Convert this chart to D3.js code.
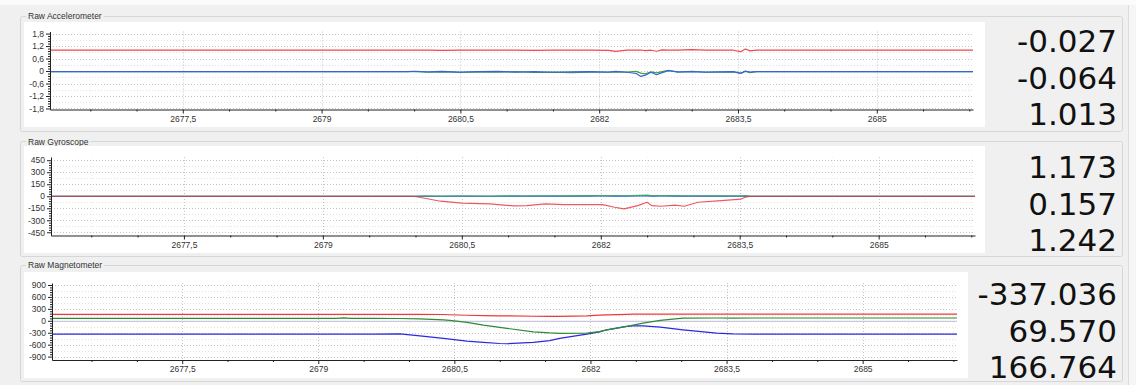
<!DOCTYPE html>
<html>
<head>
<meta charset="utf-8">
<script src="https://cdn.jsdelivr.net/npm/d3@7"></script>
<style>
html, body { margin: 0; padding: 0; background: #f0f0f0; overflow: hidden; }
svg { display: block; font-family: "Liberation Sans", Arial, sans-serif; }
</style>
</head>
<body>
<script>
// shared time axis
const xDomain = [2676.065, 2686.04];
const xTicks = [2677.5, 2679, 2680.5, 2682, 2683.5, 2685];

// accelerometer
const accelTicks = [-1.8, -1.2, -0.6, 0, 0.6, 1.2, 1.8];
const accelTime = [2676.065, 2679.93, 2680.0, 2680.15, 2680.3, 2680.5, 2680.7, 2680.9, 2681.1, 2681.3, 2681.5,
  2681.7, 2681.9, 2682.1, 2682.18, 2682.3, 2682.4, 2682.45, 2682.5, 2682.56, 2682.62, 2682.68, 2682.75, 2682.85,
  2683.0, 2683.15, 2683.3, 2683.45, 2683.53, 2683.58, 2683.63, 2683.7, 2686.04];
const accelX = [-0.03, -0.03, -0.01, -0.04, -0.02, -0.05, -0.03, -0.02, -0.05, -0.03, -0.06, -0.04, -0.03, -0.05,
  -0.02, -0.06, -0.12, -0.26, -0.2, -0.06, -0.18, -0.08, 0.02, -0.04, -0.03, -0.05, -0.04, -0.03, -0.1, 0.0, -0.05,
  -0.03, -0.03];
const accelY = [-0.03, -0.03, -0.03, -0.06, -0.04, -0.07, -0.04, -0.06, -0.03, -0.07, -0.05, -0.08, -0.05, -0.06,
  -0.04, -0.05, -0.02, -0.1, -0.14, -0.04, -0.09, -0.03, 0.03, -0.06, -0.02, -0.06, -0.05, -0.04, -0.12, -0.02,
  -0.08, -0.03, -0.03];
const accelZ = [1.0, 1.0, 1.0, 1.0, 0.99, 1.0, 1.01, 1.0, 1.0, 0.99, 1.0, 1.0, 1.0, 0.99, 0.94, 1.0, 1.0, 1.01,
  0.98, 1.0, 0.95, 1.02, 1.0, 1.0, 1.03, 1.0, 1.0, 1.0, 0.93, 1.06, 0.97, 1.0, 1.0];
const accelReadout = ["-0.027", "-0.064", "1.013"];

// gyroscope
const gyroTicks = [-450, -300, -150, 0, 150, 300, 450];
const gyroTime = [2676.065, 2679.98, 2680.1, 2680.27, 2680.5, 2680.8, 2681.06, 2681.2, 2681.4, 2681.6, 2681.85,
  2682.02, 2682.15, 2682.25, 2682.4, 2682.5, 2682.55, 2682.65, 2682.8, 2682.9, 2683.05, 2683.3, 2683.51, 2683.56,
  2683.62, 2686.04];
const gyroX = [0, 0, 1, 0, 1, 0, 2, 1, 2, 1, 2, 3, 2, 1, 3, 4, 2, 3, 2, 1, 2, 1, 1, 2, 0, 0];
const gyroY = [0, 0, 2, 1, 3, 2, 4, 3, 6, 5, 8, 7, 9, 6, 10, 14, 8, 7, 9, 6, 5, 4, 3, 8, 0, 0];
const gyroZ = [0, 0, -25, -62, -87, -96, -121, -117, -96, -104, -104, -104, -137, -158, -117, -75, -117, -125,
  -112, -125, -75, -54, -37, -12, 0, 0];
const gyroReadout = ["1.173", "0.157", "1.242"];

// magnetometer
const magTicks = [-900, -600, -300, 0, 300, 600, 900];
const magTime = [2676.065, 2679.2, 2679.28, 2679.36, 2679.6, 2679.9, 2680.12, 2680.38, 2680.45, 2680.64, 2680.82,
  2681.0, 2681.08, 2681.37, 2681.55, 2681.66, 2681.96, 2682.1, 2682.18, 2682.4, 2682.47, 2682.58, 2682.77, 2683.02,
  2683.39, 2683.57, 2683.8, 2686.04];
const magX = [-335, -335, -335, -335, -335, -330, -377, -440, -460, -510, -544, -570, -577, -544, -500, -443, -335,
  -280, -226, -142, -128, -126, -159, -226, -310, -327, -337, -337];
const magY = [62, 62, 74, 62, 62, 58, 50, 25, 12, -40, -110, -166, -190, -276, -305, -317, -310, -270, -226, -140,
  -108, -60, 10, 68, 70, 68, 70, 70];
const magZ = [162, 162, 162, 162, 162, 162, 161, 158, 152, 140, 132, 126, 124, 115, 110, 110, 125, 143, 150, 160,
  166, 166, 166, 166, 166, 166, 166, 166];
const magRefTime = [2676.065, 2686.04];
const magRef = [-12, -12];
const magReadout = ["-337.036", "69.570", "166.764"];

const W = 1136, H = 385;
const comma = d => String(d).replace(".", ",");

const svg = d3.select("body").append("svg")
  .attr("width", W)
  .attr("height", H);

svg.append("rect").attr("width", W).attr("height", H).attr("fill", "#f0f0f0");
svg.append("rect").attr("width", W).attr("height", 5).attr("fill", "#fbfbfb");
svg.append("rect").attr("x", 1128).attr("y", 5).attr("width", 8).attr("height", H - 5).attr("fill", "#f6f6f6");
svg.append("line").attr("x1", 1128.5).attr("x2", 1128.5).attr("y1", 5).attr("y2", H).attr("stroke", "#dcdcdc");

const panels = [
  {
    title: "Raw Accelerometer", frameTop: 16, frameBottom: 131, titleBase: 18.5,
    canvas: [24, 22, 985, 127], xr: [50, 973], yr: [109.5, 31.5], domain: [-1.85, 1.9],
    ticks: accelTicks, readout: accelReadout, readY: 52,
    series: [
      {t: accelTime, v: accelY, c: "#45a045", o: 1},
      {t: accelTime, v: accelX, c: "#3565d8", o: 1},
      {t: accelTime, v: accelZ, c: "#ec4a4e", o: 1}
    ]
  },
  {
    title: "Raw Gyroscope", frameTop: 141, frameBottom: 256, titleBase: 144.5,
    canvas: [24, 146, 985, 253], xr: [51, 975], yr: [235.5, 157], domain: [-490, 490],
    ticks: gyroTicks, readout: gyroReadout, readY: 178,
    series: [
      {t: gyroTime, v: gyroX, c: "#3060d0", o: 1},
      {t: gyroTime, v: gyroY, c: "#30a060", o: 0.8},
      {t: gyroTime, v: gyroZ, c: "#e8303a", o: 0.8}
    ]
  },
  {
    title: "Raw Magnetometer", frameTop: 265, frameBottom: 381, titleBase: 268,
    canvas: [24, 272, 968, 378], xr: [52, 957], yr: [360, 283], domain: [-985, 950],
    ticks: magTicks, readout: magReadout, readY: 305,
    series: [
      {t: magRefTime, v: magRef, c: "#c9c6e0", o: 1},
      {t: magTime, v: magX, c: "#2a2ae0", o: 1},
      {t: magTime, v: magY, c: "#2f8a35", o: 1},
      {t: magTime, v: magZ, c: "#f03a3a", o: 1}
    ]
  }
];

panels.forEach(p => {
  const g = svg.append("g");

  // group box frame + title
  g.append("rect")
    .attr("x", 20.5).attr("y", p.frameTop + 0.5)
    .attr("width", 1102).attr("height", p.frameBottom - p.frameTop)
    .attr("rx", 2)
    .attr("fill", "none").attr("stroke", "#d6d6d6");
  const title = g.append("text")
    .attr("x", 28).attr("y", p.titleBase)
    .attr("font-size", 8.5).attr("fill", "#333")
    .text(p.title);
  const tw = title.node().getComputedTextLength();
  g.insert("rect", "text")
    .attr("x", 26).attr("y", p.frameTop - 3)
    .attr("width", tw + 4).attr("height", 7)
    .attr("fill", "#f0f0f0");

  // white canvas
  const [cx0, cy0, cx1, cy1] = p.canvas;
  g.append("rect")
    .attr("x", cx0).attr("y", cy0)
    .attr("width", cx1 - cx0).attr("height", cy1 - cy0)
    .attr("fill", "#fff");

  const x = d3.scaleLinear().domain(xDomain).range(p.xr);
  const y = d3.scaleLinear().domain(p.domain).range(p.yr);

  const step = p.ticks[1] - p.ticks[0];
  const halfTicks = p.ticks.slice(0, -1).map(t => t + step / 2);
  const yMinor = [];
  p.ticks.slice(0, -1).forEach(t => { for (let k = 1; k < 5; k++) yMinor.push(t + k * step / 5); });
  const xMinor = d3.range(2676.5, xDomain[1], 0.5).filter(t => !xTicks.some(m => Math.abs(m - t) < 1e-6));

  // grid
  const grid = g.append("g").attr("stroke-width", 1).attr("stroke-dasharray", "1,2");
  grid.selectAll(".vmin").data(xMinor).join("line")
    .attr("x1", d => Math.round(x(d)) + 0.5).attr("x2", d => Math.round(x(d)) + 0.5)
    .attr("y1", p.yr[1]).attr("y2", p.yr[0])
    .attr("stroke", "#efefef");
  grid.selectAll(".hmin").data(halfTicks).join("line")
    .attr("x1", p.xr[0]).attr("x2", p.xr[1])
    .attr("y1", d => Math.round(y(d)) + 0.5).attr("y2", d => Math.round(y(d)) + 0.5)
    .attr("stroke", "#e2e2e2");
  grid.selectAll(".hmaj").data(p.ticks).join("line")
    .attr("x1", p.xr[0]).attr("x2", p.xr[1])
    .attr("y1", d => Math.round(y(d)) + 0.5).attr("y2", d => Math.round(y(d)) + 0.5)
    .attr("stroke", "#c4c4c4");
  grid.selectAll(".vmaj").data(xTicks).join("line")
    .attr("x1", d => Math.round(x(d)) + 0.5).attr("x2", d => Math.round(x(d)) + 0.5)
    .attr("y1", p.yr[1]).attr("y2", p.yr[0])
    .attr("stroke", "#c4c4c4");

  // curves
  p.series.forEach(s => {
    const pts = s.t.map((t, i) => [t, s.v[i]]);
    g.append("path")
      .datum(pts)
      .attr("fill", "none")
      .attr("stroke", s.c)
      .attr("stroke-opacity", s.o)
      .attr("stroke-width", 1.2)
      .attr("stroke-linejoin", "round")
      .attr("d", d3.line().x(d => x(d[0])).y(d => y(d[1])));
  });

  // axes
  const styleAxis = sel => {
    sel.selectAll("path, line").attr("stroke", "#222");
    sel.selectAll("text").attr("fill", "#333").attr("font-size", 8.5)
      .attr("font-family", "Liberation Sans, Arial, sans-serif");
  };
  g.append("g")
    .attr("transform", `translate(${p.xr[0]},0)`)
    .call(d3.axisLeft(y).tickValues(p.ticks).tickFormat(comma).tickSize(4).tickSizeOuter(0).tickPadding(2))
    .call(styleAxis);
  g.append("g")
    .attr("transform", `translate(${p.xr[0]},0)`)
    .call(d3.axisLeft(y).tickValues(yMinor).tickFormat("").tickSize(2).tickSizeOuter(0))
    .call(styleAxis)
    .select(".domain").remove();
  g.append("g")
    .attr("transform", `translate(0,${p.yr[0]})`)
    .call(d3.axisBottom(x).tickValues(xTicks).tickFormat(comma).tickSize(4).tickSizeOuter(0).tickPadding(2))
    .call(styleAxis);
  g.append("g")
    .attr("transform", `translate(0,${p.yr[0]})`)
    .call(d3.axisBottom(x).tickValues(xMinor).tickFormat("").tickSize(2).tickSizeOuter(0))
    .call(styleAxis)
    .select(".domain").remove();

  // live readouts
  g.selectAll(".readout").data(p.readout).join("text")
    .attr("x", 1117)
    .attr("y", (d, i) => p.readY + i * 36.5)
    .attr("text-anchor", "end")
    .attr("font-family", "DejaVu Sans, sans-serif")
    .attr("font-size", 31)
    .attr("fill", "#111")
    .text(d => d);
});
</script>
</body>
</html>
